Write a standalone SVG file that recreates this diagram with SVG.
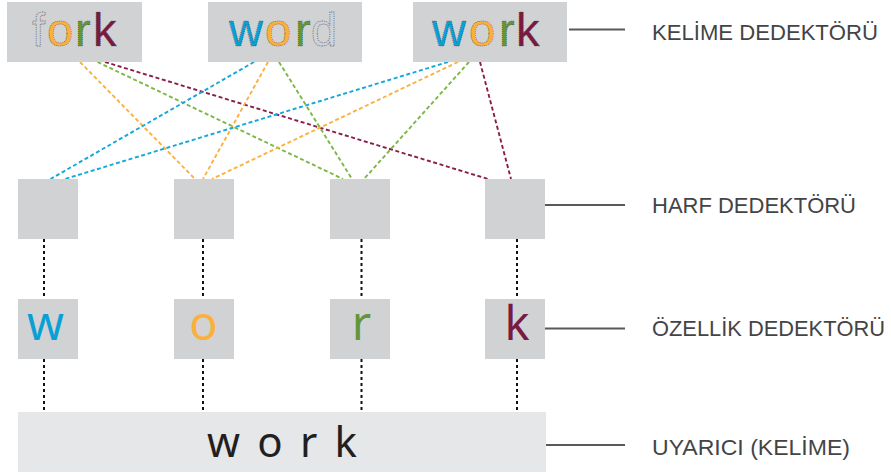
<svg xmlns="http://www.w3.org/2000/svg" width="891" height="475" viewBox="0 0 891 475">
<style>
.box{fill:#d1d2d4}
.stim{fill:#e6e7e8}
.c{fill:none;stroke-width:1.9;stroke-dasharray:4 2.6}
.bl{stroke:#13a8dc}.or{stroke:#fbb040}.gr{stroke:#7ab843}.mr{stroke:#8a1d4b}
.v{fill:none;stroke:#111;stroke-width:2;stroke-dasharray:3 3}
.lg{stroke:#58595b;stroke-width:2}
.lt{font-family:"Liberation Sans","Noto Sans",sans-serif;font-size:22px;fill:#444446}
.w{font-family:"Liberation Sans","Noto Sans",sans-serif;font-size:47px}
.ol{fill:none;stroke:#6d6e71;stroke-width:0.8;stroke-dasharray:1.2 1}
.cl{stroke:#3a3a3a;stroke-width:0.5;stroke-dasharray:1 1}
.L{font-family:"Noto Sans","Liberation Sans",sans-serif;font-size:47px;text-anchor:middle}
.B{fill:#0aa0d6}.O{fill:#fbb03b}.G{fill:#63953a}.M{fill:#7a1a40}
</style>
<g id="connectors">
<line class="c or" x1="80" y1="62" x2="195" y2="179"/>
<line class="c gr" x1="97.5" y1="62" x2="343" y2="179"/>
<line class="c mr" x1="105" y1="62" x2="488" y2="179"/>
<line class="c bl" x1="254" y1="62" x2="50.5" y2="179"/>
<line class="c or" x1="268" y1="62" x2="203" y2="179"/>
<line class="c gr" x1="279" y1="62" x2="352" y2="179"/>
<line class="c bl" x1="448" y1="62" x2="65" y2="179"/>
<line class="c or" x1="458" y1="62" x2="212" y2="179"/>
<line class="c gr" x1="469" y1="62" x2="364" y2="179"/>
<line class="c mr" x1="480" y1="62" x2="511" y2="179"/>
<line class="v" x1="44" y1="239" x2="44" y2="299"/>
<line class="v" x1="203" y1="239" x2="203" y2="299"/>
<line class="v" x1="361.5" y1="239" x2="361.5" y2="299"/>
<line class="v" x1="517" y1="239" x2="517" y2="299"/>
<line class="v" x1="44" y1="359" x2="44" y2="412"/>
<line class="v" x1="203" y1="359" x2="203" y2="412"/>
<line class="v" x1="361.5" y1="359" x2="361.5" y2="412"/>
<line class="v" x1="517" y1="359" x2="517" y2="412"/>
<line class="lg" x1="569" y1="29.5" x2="625" y2="29.5"/>
<line class="lg" x1="545" y1="205" x2="625" y2="205"/>
<line class="lg" x1="545" y1="328.5" x2="625" y2="328.5"/>
<line class="lg" x1="545" y1="445" x2="625" y2="445"/>
</g>
<g id="word-fork">
<rect class="box" x="7" y="2" width="135" height="60"/>
<text class="w ol" x="32" y="46">f</text>
<text class="w O cl" x="47" y="46">o</text>
<text class="w G cl" x="75" y="46">r</text>
<text class="w M cl" x="93" y="46">k</text>
</g>
<g id="word-word">
<rect class="box" x="208" y="2" width="154" height="60"/>
<text class="w B cl" x="229" y="46">w</text>
<text class="w O cl" x="265" y="46">o</text>
<text class="w G cl" x="295" y="46">r</text>
<text class="w ol" x="311" y="46">d</text>
</g>
<g id="word-work">
<rect class="box" x="413" y="2" width="154" height="60"/>
<text class="w B cl" x="432" y="46">w</text>
<text class="w O cl" x="469" y="46">o</text>
<text class="w G cl" x="499" y="46">r</text>
<text class="w M cl" x="516" y="46">k</text>
</g>
<g id="letter-1"><rect class="box" x="18" y="179" width="60" height="60"/></g>
<g id="letter-2"><rect class="box" x="174" y="179" width="60" height="60"/></g>
<g id="letter-3"><rect class="box" x="330" y="179" width="60" height="60"/></g>
<g id="letter-4"><rect class="box" x="485" y="179" width="60" height="60"/></g>
<g id="feature-w"><rect class="box" x="18" y="299" width="60" height="60"/><text class="L B" x="45.5" y="340">w</text></g>
<g id="feature-o"><rect class="box" x="174" y="299" width="60" height="60"/><text class="L O" x="203.5" y="340">o</text></g>
<g id="feature-r"><rect class="box" x="330" y="299" width="60" height="60"/><text class="L G" x="361.5" y="340">r</text></g>
<g id="feature-k"><rect class="box" x="485" y="299" width="60" height="60"/><text class="L M" x="517" y="340">k</text></g>
<g id="stimulus">
<rect class="stim" x="18" y="412" width="528" height="60"/>
<text x="207" y="457" font-family="'Noto Sans','Liberation Sans',sans-serif" font-size="42" fill="#231f20" textLength="150" lengthAdjust="spacing">work</text>
</g>
<g id="legend">
<text class="lt" x="652" y="39.5" textLength="226" lengthAdjust="spacingAndGlyphs">KELİME DEDEKTÖRÜ</text>
<text class="lt" x="652" y="213" textLength="204" lengthAdjust="spacingAndGlyphs">HARF DEDEKTÖRÜ</text>
<text class="lt" x="652" y="336" textLength="233" lengthAdjust="spacingAndGlyphs">ÖZELLİK DEDEKTÖRÜ</text>
<text class="lt" x="652" y="455" textLength="198" lengthAdjust="spacingAndGlyphs">UYARICI (KELİME)</text>
</g>
</svg>
